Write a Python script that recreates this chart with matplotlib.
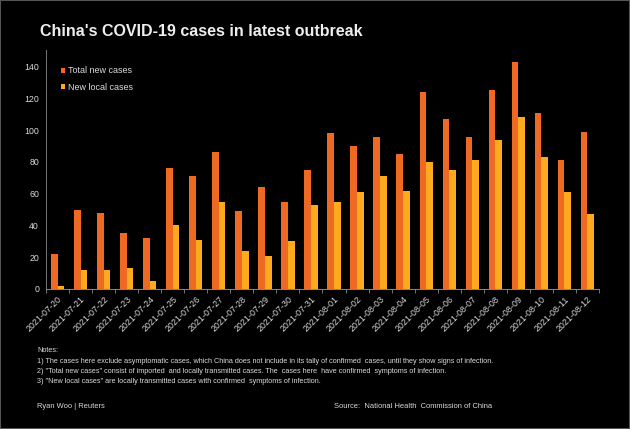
import numpy as np
import matplotlib.pyplot as plt

plt.rcParams['font.family'] = ['Liberation Sans', 'DejaVu Sans']

dates = ['2021-07-20', '2021-07-21', '2021-07-22', '2021-07-23', '2021-07-24',
         '2021-07-25', '2021-07-26', '2021-07-27', '2021-07-28', '2021-07-29',
         '2021-07-30', '2021-07-31', '2021-08-01', '2021-08-02', '2021-08-03',
         '2021-08-04', '2021-08-05', '2021-08-06', '2021-08-07', '2021-08-08',
         '2021-08-09', '2021-08-10', '2021-08-11', '2021-08-12']
total_new = [22, 50, 48, 35, 32, 76, 71, 86, 49, 64, 55, 75,
             98, 90, 96, 85, 124, 107, 96, 125, 143, 111, 81, 99]
new_local = [2, 12, 12, 13, 5, 40, 31, 55, 24, 21, 30, 53,
             55, 61, 71, 62, 80, 75, 81, 94, 108, 83, 61, 47]
yticks = [0, 20, 40, 60, 80, 100, 120, 140]

notes = ['Notes:',
         '1) The cases here exclude asymptomatic cases, which China does not include in its tally of confirmed  cases, until they show signs of infection.',
         '2) "Total new cases" consist of imported  and locally transmitted cases. The  cases here  have confirmed  symptoms of infection.',
         '3) "New local cases" are locally transmitted cases with confirmed  symptoms of infection.']

c_total = '#EE6A22'
c_local = '#FDAA1E'
txt = '#DADADA'

W, H = 630, 429
fig = plt.figure(figsize=(W / 100, H / 100), dpi=100, facecolor='black')
ax = fig.add_axes([46 / W, (H - 289) / H, (599 - 46) / W, (289 - 50) / H])
ax.set_facecolor('black')

x = np.arange(len(dates))
bw = 0.29
ax.bar(x - bw / 2, total_new, bw, color=c_total, label='Total new cases')
ax.bar(x + bw / 2, new_local, bw, color=c_local, label='New local cases')

ax.set_xlim(-0.5, len(dates) - 0.5)
ax.set_ylim(0, 150.5)
ax.set_yticks(yticks)
ax.tick_params(axis='y', length=0, labelsize=6.3, labelcolor=txt, pad=5)
ax.set_xticks(x)
ax.set_xticklabels(dates, rotation=45, ha='right', rotation_mode='anchor')
ax.tick_params(axis='x', which='major', length=0, labelsize=6.4, labelcolor=txt, pad=4)
ax.set_xticks(np.arange(len(dates) + 1) - 0.5, minor=True)
ax.tick_params(axis='x', which='minor', length=3, color='#888888', width=0.6)

for s in ['top', 'right']:
    ax.spines[s].set_visible(False)
ax.spines['left'].set_color('#777777')
ax.spines['bottom'].set_color('#888888')
ax.spines['left'].set_linewidth(0.7)
ax.spines['bottom'].set_linewidth(0.7)

leg = ax.legend(loc='upper left', bbox_to_anchor=(0.012, 0.965), frameon=False,
                fontsize=6.5, handlelength=0.5, handleheight=0.5, handletextpad=0.25,
                labelspacing=0.8, labelcolor=txt)

fig.text(40 / W, 1 - 31 / H, "China's COVID-19 cases in latest outbreak", color='#EEEEEE',
         fontsize=11.5, fontweight='bold', va='center', ha='left')

for i, line in enumerate(notes):
    fig.text(37 / W, 1 - (351 + i * 10.2) / H, line, color=txt, fontsize=5.25,
             va='center', ha='left')
fig.text(37 / W, 1 - 407 / H, 'Ryan Woo | Reuters', color=txt, fontsize=5.4,
         va='center', ha='left')
fig.text(492 / W, 1 - 406 / H, 'Source:  National Health  Commission of China', color=txt,
         fontsize=5.4, va='center', ha='right')

fig.patches.append(plt.Rectangle((0, 0), 1, 1, transform=fig.transFigure, fill=False,
                                 edgecolor='#555555', linewidth=1.5))

fig.savefig('out.png', dpi=100, facecolor='black')
